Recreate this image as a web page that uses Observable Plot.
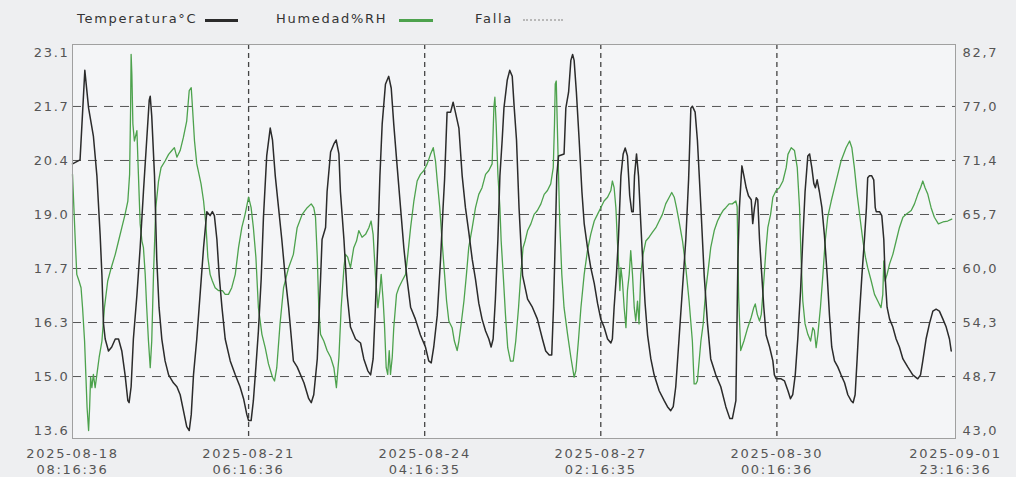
<!DOCTYPE html>
<html>
<head>
<meta charset="utf-8">
<script src="https://cdn.jsdelivr.net/npm/d3@7"></script>
<script src="https://cdn.jsdelivr.net/npm/@observablehq/plot@0.6"></script>
<style>
  body { margin: 0; background: #eeeff1; }
  #wrap { position: relative; width: 1016px; height: 477px; font-family: "DejaVu Sans", sans-serif; letter-spacing: 1.7px; }
  #legend { position: absolute; left: 0; top: 0; width: 1016px; height: 40px; font-size: 13px; color: #333; }
  #legend .it { position: absolute; top: 11px; white-space: nowrap; }
  #legend .sw { position: absolute; top: 19px; height: 0; }
</style>
</head>
<body>
<div id="wrap">
  <div id="chart"></div>
  <div id="legend"></div>
</div>
<script>
// ---- data ----
const seriesNames = ["Temperatura°C", "Humedad%RH", "Falla"];
const seriesColors = ["#2b2b2b", "#4da24d", "#b8b8b8"];

const xTickLabels = [
  "2025-08-18 08:16:36",
  "2025-08-21 06:16:36",
  "2025-08-24 04:16:35",
  "2025-08-27 02:16:35",
  "2025-08-30 00:16:36",
  "2025-09-01 23:16:36"
];
const leftTickLabels = ["13.6", "15.0", "16.3", "17.7", "19.0", "20.4", "21.7", "23.1"];
const rightTickLabels = ["43,0", "48,7", "54,3", "60,0", "65,7", "71,4", "77,0", "82,7"];

// hours since first sample
const tempHours = [0,3.0,4.9,6.4,8.3,9.7,11.0,11.7,12.3,13.0,14.3,15.6,17.0,18.3,19.6,20.9,22.0,22.5,23.3,24.2,25.6,26.9,28.2,29.5,30.5,30.9,31.5,32.6,33.5,34.4,35.5,36.8,38.2,40.1,41.5,42.8,44.1,45.4,46.4,47.2,48.1,49.4,50.7,52.1,53.4,54.7,55.6,56.4,57.4,58.3,59.4,60.7,62.7,64.7,66.6,68.0,69.3,70.0,71.0,71.9,72.9,73.9,75.0,75.9,77.2,78.6,79.5,80.6,81.9,83.2,84.5,85.9,87.8,89.3,92.0,93.9,94.9,95.9,97.3,98.6,99.2,100.6,101.2,102.6,103.9,104.8,105.9,106.5,107.9,109.2,110.5,112.5,114.5,115.8,117.4,118.5,119.5,120.4,121.4,122.2,123.1,124.4,125.7,126.7,127.7,129.1,130.4,131.7,133.0,134.4,136.3,138.3,140.3,141.6,142.6,143.6,145.0,146.3,147.3,147.9,148.9,150.3,151.3,152.2,153.6,154.9,156.2,157.5,158.9,160.2,161.5,162.8,164.2,165.5,166.4,167.2,168.1,169.1,169.9,170.8,171.5,172.8,173.8,174.8,175.6,176.5,177.5,178.9,180.9,182.8,184.8,186.8,188.1,189.5,190.5,191.2,191.9,192.5,193.2,195.4,196.1,197.2,198.1,198.8,199.4,200.3,201.4,202.5,203.4,204.7,206.0,207.4,208.7,210.0,211.3,212.7,214.0,214.6,215.3,216.2,217.0,218.0,218.9,219.7,220.6,221.5,222.3,222.9,223.4,224.2,225.0,225.9,226.8,227.6,228.6,229.9,231.2,233.2,235.2,236.5,237.8,238.8,239.8,241.1,242.5,243.8,244.9,245.8,246.4,247.5,248.4,249.8,251.1,252.4,253.7,255.7,257.7,259.7,261.3,262.3,263.7,264.5,265.1,266.1,266.9,267.8,268.7,269.8,270.4,271.1,271.8,272.4,273.1,274.0,274.8,275.7,277.1,278.4,279.0,279.7,281.7,283.0,284.4,285.4,286.3,287.3,288.3,289.4,290.3,291.2,292.3,293.0,293.9,294.7,295.3,296.0,296.9,297.9,298.9,300.0,300.9,301.8,302.9,304.2,305.5,306.9,308.2,309.5,310.3,311.1,311.9,312.8,313.8,314.8,315.6,316.1,316.8,317.7,318.5,319.1,319.5,320.8,321.7,322.5,323.0,323.8,324.8,326.1,327.4,328.7,330.1,332.0,334.0,336.0,337.1,338.0,339.3,340.7,342.0,343.3,344.6,346.0,347.3,348.6,349.3];
const tempValues = [20.3,20.4,22.65,21.7,21.0,20.0,18.5,17.5,16.3,15.9,15.6,15.7,15.9,15.9,15.6,15.0,14.35,14.3,14.7,15.9,17.0,18.2,19.6,20.9,21.9,22.0,21.5,20.0,17.9,16.7,15.9,15.35,15.0,14.8,14.7,14.5,14.1,13.7,13.6,14.0,15.0,15.9,17.0,18.2,19.1,19.0,19.1,19.0,18.4,17.5,16.7,15.9,15.35,15.0,14.7,14.4,14.0,13.85,13.85,14.35,15.2,16.1,17.4,18.95,20.5,21.2,20.9,20.0,19.2,18.4,17.5,16.7,15.35,15.2,14.8,14.4,14.3,14.5,15.4,17.4,18.4,18.7,19.6,20.6,20.8,20.9,20.55,19.6,18.4,17.0,16.2,15.9,15.8,15.4,15.1,15.0,15.4,16.7,18.4,20.0,21.3,22.3,22.5,22.2,21.3,20.2,19.2,18.2,17.4,16.7,16.4,16.0,15.7,15.35,15.3,15.7,16.5,17.9,19.2,19.9,21.6,21.6,21.85,21.6,21.2,20.0,19.2,18.6,17.9,17.4,16.8,16.4,16.1,15.9,15.7,15.9,16.9,18.4,20.0,20.9,21.7,22.4,22.65,22.5,21.7,20.9,19.2,17.5,16.9,16.7,16.4,15.9,15.6,15.5,15.5,16.7,18.4,20.0,20.5,20.55,21.7,22.1,22.9,23.05,22.9,22.1,20.9,19.6,18.8,18.2,17.7,17.3,16.8,16.4,16.2,15.9,15.8,15.9,16.7,17.5,18.4,20.0,20.55,20.7,20.5,19.5,19.1,19.1,20.0,20.55,20.0,18.8,17.7,16.8,16.0,15.4,15.0,14.6,14.35,14.2,14.1,14.2,14.7,15.9,17.2,18.4,19.9,21.7,21.75,21.6,20.9,19.2,17.5,16.3,15.4,15.0,14.7,14.2,13.9,13.9,14.35,17.9,19.2,20.25,20.0,19.7,19.5,19.4,18.8,19.2,19.45,19.4,18.4,17.5,16.7,16.0,15.7,15.35,15.0,14.9,14.9,14.85,14.6,14.4,14.5,15.0,15.9,17.1,18.4,19.6,20.5,20.55,20.2,19.8,19.7,19.9,19.6,19.2,18.5,17.5,16.5,15.7,15.35,15.2,15.0,14.8,14.5,14.35,14.3,14.5,15.4,16.5,17.5,18.4,19.2,19.95,20.0,20.0,19.9,19.2,19.1,19.1,19.0,18.4,17.5,16.7,16.4,16.2,15.9,15.7,15.4,15.2,15.0,14.9,15.0,15.35,15.9,16.3,16.6,16.65,16.6,16.4,16.2,15.9,15.6];

const humHours = [0,1.1,1.7,2.6,3.4,4.0,4.8,5.3,5.8,6.4,6.8,7.2,7.7,8.3,9.0,9.7,10.6,11.7,12.7,14.0,15.4,17.0,18.3,19.6,20.9,22.0,22.7,23.1,23.3,23.6,24.0,24.6,25.6,26.2,26.9,27.6,28.2,28.9,29.5,30.2,30.9,31.5,32.2,33.1,34.2,35.2,36.8,38.2,39.5,40.5,41.5,42.8,44.1,45.4,46.4,47.2,47.7,48.5,49.4,50.3,51.1,52.1,53.0,53.8,54.7,55.6,56.7,58.0,59.6,60.7,62.0,63.3,64.7,66.0,67.3,68.6,70.0,71.0,71.9,72.9,73.9,75.3,76.6,77.9,79.5,80.3,81.2,82.5,83.9,85.9,87.8,89.3,91.3,93.3,94.9,95.9,96.6,97.3,97.9,98.6,99.9,101.2,102.6,103.9,104.9,105.9,106.8,107.9,108.5,109.4,110.5,111.8,112.9,113.8,115.1,116.5,117.8,118.7,119.5,120.4,121.4,122.2,122.7,123.5,124.0,124.7,125.3,125.9,126.4,127.1,127.7,128.8,129.7,131.0,132.4,133.3,134.4,135.7,137.0,138.3,139.7,141.0,142.3,143.4,144.3,145.0,146.0,146.9,147.9,148.7,149.6,150.9,151.8,152.9,153.6,154.5,155.6,156.6,157.5,158.9,160.2,161.5,162.8,164.2,165.5,166.8,167.5,167.9,168.4,169.1,169.9,170.4,171.2,172.1,173.0,174.1,175.2,176.2,177.3,178.2,179.1,179.9,180.9,182.2,183.5,184.8,186.2,187.5,188.8,190.1,191.1,191.6,191.9,192.3,192.7,193.2,193.7,194.5,195.4,196.8,198.1,199.4,200.1,201.1,202.1,203.4,204.7,206.0,207.4,208.7,210.0,211.3,212.7,214.0,214.6,215.3,216.0,216.6,217.3,217.6,218.0,218.6,219.3,220.0,220.6,221.3,221.9,222.6,223.3,223.9,224.6,225.2,225.9,226.8,227.9,229.2,230.5,231.9,233.2,234.5,235.8,237.2,238.2,239.2,240.1,241.1,242.5,243.8,245.1,246.4,247.1,247.8,248.4,249.1,249.8,250.7,251.7,252.8,253.7,255.1,256.4,257.7,258.6,259.7,261.0,262.3,263.7,264.2,264.8,265.6,266.9,268.4,269.8,270.8,271.4,272.2,273.1,273.8,274.8,275.7,276.4,277.5,278.4,279.7,281.0,282.4,283.7,284.4,285.7,287.0,288.1,289.0,289.6,290.3,291.2,292.3,293.4,294.3,294.9,295.6,296.3,297.3,298.3,299.2,300.2,301.6,302.9,304.2,305.5,307.5,308.9,309.8,310.8,311.9,313.2,314.2,315.2,316.1,317.5,318.8,320.1,321.4,322.1,322.5,323.0,323.8,324.8,326.1,327.4,328.7,330.1,331.4,333.4,334.7,336.0,337.1,338.0,338.9,340.0,341.3,342.6,344.2,346.0,347.9,349.5];
const humValues = [69.9,62.9,59.4,58.7,58.0,55.9,52.4,48.9,45.4,43.0,45.4,48.6,47.5,48.9,47.5,48.9,50.7,52.4,55.9,58.7,60.1,61.5,62.9,64.3,65.7,67.1,69.9,76.9,82.5,80.4,75.2,73.4,74.5,69.9,64.7,62.9,62.2,59.4,55.9,52.4,49.6,52.4,59.4,66.4,69.2,70.6,71.3,72.0,72.4,72.7,71.7,72.4,73.8,75.5,78.7,79.0,76.9,73.4,71.0,69.9,68.9,67.1,64.7,61.2,59.4,58.7,58.0,57.7,57.7,57.3,57.3,58.0,59.4,62.2,64.3,65.7,67.5,66.4,64.3,61.2,55.9,53.1,51.7,50.0,48.6,48.2,49.6,54.2,58.0,60.1,61.5,64.3,65.7,66.4,66.8,66.4,65.4,61.2,55.9,53.1,52.4,51.4,50.7,49.6,47.5,50.7,55.9,60.1,61.5,61.2,60.1,62.2,62.9,64.0,63.3,63.6,64.3,65.0,63.6,59.4,55.9,57.7,59.4,56.6,54.2,49.6,48.9,51.4,48.9,50.7,53.8,57.3,58.0,58.7,59.4,61.5,64.3,67.1,69.2,69.9,70.3,71.0,72.0,72.7,71.3,69.2,66.4,62.9,59.4,56.6,54.5,53.8,52.4,51.4,52.4,54.2,56.6,59.4,62.2,64.3,66.4,67.8,68.5,69.9,70.3,71.0,76.9,78.0,75.2,69.9,66.4,62.9,59.4,55.2,51.7,50.3,50.3,52.4,55.9,59.4,62.2,62.9,64.0,64.7,65.7,66.1,66.8,67.8,68.2,68.9,70.6,75.2,79.4,79.7,75.2,69.9,64.7,59.4,55.9,53.1,50.7,48.6,49.3,52.4,55.9,59.4,61.9,63.6,65.0,65.7,66.4,67.1,67.5,68.2,69.2,68.5,66.4,62.9,59.4,57.7,60.1,58.7,55.9,53.8,57.7,59.4,61.9,59.4,55.9,54.5,56.6,54.2,59.4,61.5,62.9,63.3,63.8,64.3,65.0,65.7,66.8,67.5,68.0,67.5,66.4,65.0,62.9,60.1,56.6,52.4,47.9,47.9,48.2,50.3,52.4,54.2,57.7,60.1,62.2,64.0,65.0,65.7,66.1,66.4,66.8,66.8,67.1,66.5,57.0,51.4,52.4,53.8,54.9,55.9,56.3,55.2,54.5,55.2,58.7,62.2,64.3,65.7,67.5,68.2,68.5,69.2,70.6,72.0,72.7,72.4,70.6,66.4,61.2,56.6,54.2,53.1,52.4,53.8,53.5,51.7,53.1,55.9,59.4,62.9,65.4,67.1,68.5,69.9,71.3,72.7,73.4,72.7,70.6,67.8,65.0,62.9,61.2,60.1,58.7,57.3,56.6,55.9,57.3,60.8,58.7,59.4,60.5,61.5,62.9,64.3,65.4,65.7,66.1,66.8,67.8,68.5,69.2,68.5,67.8,66.4,65.4,64.7,64.9,65.0,65.2];

// ---- build ----
const parse = d3.utcParse("%Y-%m-%d %H:%M:%S");
const xTicks = xTickLabels.map(parse);
const t0 = xTicks[0], t1 = xTicks[xTicks.length - 1];
const toDate = h => new Date(+t0 + h * 3600e3);

const tMin = +leftTickLabels[0], tMax = +leftTickLabels[leftTickLabels.length - 1];
const num = s => +s.replace(",", ".");
const hMin = num(rightTickLabels[0]), hMax = num(rightTickLabels[rightTickLabels.length - 1]);
const hToT = h => tMin + (h - hMin) * (tMax - tMin) / (hMax - hMin);
const nT = leftTickLabels.length;
const yTicks = d3.range(nT).map(i => tMin + i * (tMax - tMin) / (nT - 1));
const pad = (tMax - tMin) * 0.021;

const temp = tempHours.map((h, i) => ({t: toDate(h), v: tempValues[i]}));
const hum = humHours.map((h, i) => ({t: toDate(h), v: hToT(humValues[i])}));

const yIndex = d => yTicks.findIndex(v => Math.abs(v - d) < 1e-6);
const xIndex = d => xTicks.findIndex(v => +v === +d);

const chart = Plot.plot({
  width: 1016, height: 477,
  marginLeft: 72, marginRight: 61, marginTop: 44, marginBottom: 39,
  style: {background: "transparent", fontFamily: "DejaVu Sans, sans-serif", fontSize: "13px", color: "#555"},
  x: {type: "utc", domain: [t0, t1], label: null},
  y: {domain: [tMin - pad, tMax + pad], label: null},
  marks: [
    Plot.frame({fill: "#f4f5f7", stroke: null}),
    Plot.ruleY(yTicks.slice(1, -1), {stroke: "#555", strokeDasharray: "9,7", strokeWidth: 1}),
    Plot.ruleX(xTicks.slice(1, -1), {stroke: "#444", strokeDasharray: "5,4", strokeWidth: 1.3}),
    Plot.line(hum, {x: "t", y: "v", stroke: seriesColors[1], strokeWidth: 1.3}),
    Plot.line(temp, {x: "t", y: "v", stroke: seriesColors[0], strokeWidth: 1.5}),
    Plot.frame({stroke: "#a0a0a0"}),
    Plot.axisY({anchor: "left", ticks: yTicks, tickFormat: d => leftTickLabels[yIndex(d)], tickSize: 0, tickPadding: 3, label: null}),
    Plot.axisY({anchor: "right", ticks: yTicks, tickFormat: d => rightTickLabels[yIndex(d)], tickSize: 0, tickPadding: 7, label: null}),
    Plot.axisX({ticks: xTicks, tickFormat: d => xTickLabels[xIndex(d)].replace(" ", "\n"), tickSize: 0, tickPadding: 7, lineHeight: 1.3, label: null})
  ]
});
chart.style.letterSpacing = "1.7px";
document.getElementById("chart").appendChild(chart);

// legend
const legend = document.getElementById("legend");
const items = [
  {x: 77, sx: 205, sw: 33, dash: false},
  {x: 276, sx: 399, sw: 34, dash: false},
  {x: 475, sx: 523, sw: 40, dash: true}
];
items.forEach((it, i) => {
  const s = document.createElement("span");
  s.className = "it";
  s.style.left = it.x + "px";
  s.textContent = seriesNames[i];
  legend.appendChild(s);
  const l = document.createElement("div");
  l.className = "sw";
  l.style.left = it.sx + "px";
  l.style.width = it.sw + "px";
  l.style.borderTop = it.dash ? `2px dotted ${seriesColors[i]}` : `3px solid ${seriesColors[i]}`;
  legend.appendChild(l);
});
</script>
</body>
</html>
